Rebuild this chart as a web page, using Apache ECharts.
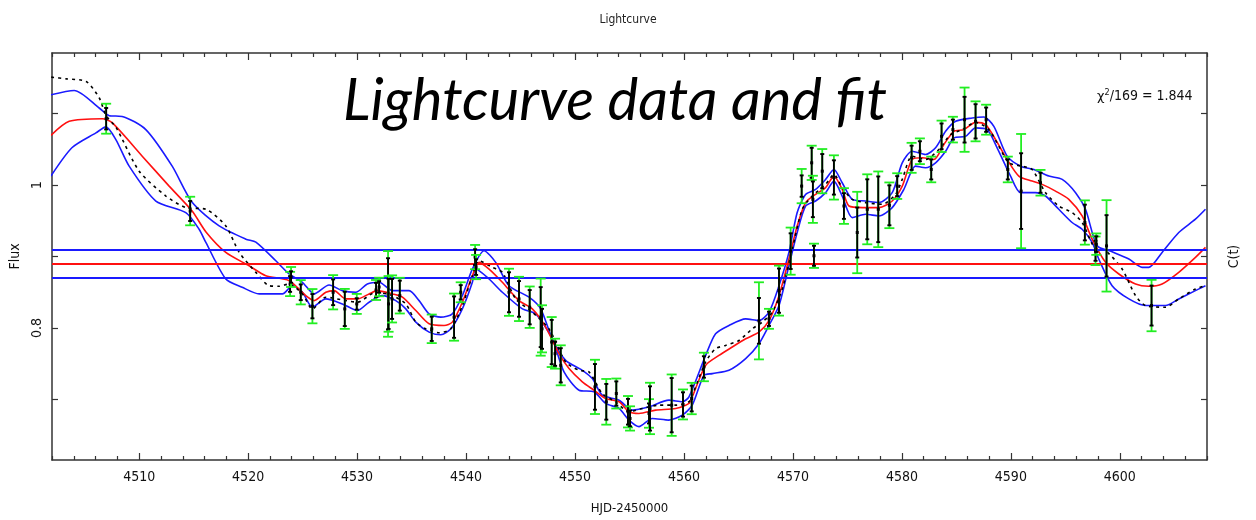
<!DOCTYPE html>
<html><head><meta charset="utf-8">
<script src="https://cdn.jsdelivr.net/npm/echarts@6/dist/echarts.min.js"></script>
<style>html,body{margin:0;padding:0;background:#fff}#c{width:1256px;height:520px}</style>
</head><body><div id="c"></div>
<script>
// ---- data (HJD-2450000, flux) ----
const xMajorTicks = [4510,4520,4530,4540,4550,4560,4570,4580,4590,4600];
const xMinorTicks = [4502,4504,4506,4508,4512,4514,4516,4518,4522,4524,4526,4528,4532,4534,4536,4538,4542,4544,4546,4548,4552,4554,4556,4558,4562,4564,4566,4568,4572,4574,4576,4578,4582,4584,4586,4588,4592,4594,4596,4598,4602,4604,4606,4608];
const yTicks = [0.7,0.8,0.9,1.0,1.1];
const yLabels = [0.8,1.0];
const meanLevel = [0.888];
const bandLevels = [0.905,0.874];
const chiText = '/169 = 1.844';

// observations: [day, flux, error, outer error]
const obs = [
[4506.97,1.093,0.015,0.021],[4514.68,0.9637,0.014,0.020],[4523.85,0.8615,0.011,0.017],[4523.94,0.8713,0.008,0.014],
[4524.83,0.8499,0.011,0.017],[4525.9,0.8304,0.017,0.024],[4527.8,0.8499,0.018,0.024],[4528.87,0.8266,0.024,0.028],
[4529.97,0.8336,0.008,0.014],[4531.74,0.8531,0.010,0.014],[4532.02,0.8573,0.008,0.013],[4532.84,0.8476,0.050,0.060],
[4532.89,0.8336,0.035,0.039],[4533.21,0.8406,0.028,0.033],[4533.92,0.8452,0.021,0.025],[4536.85,0.7987,0.017,0.020],
[4538.9,0.8151,0.029,0.033],[4539.51,0.8499,0.010,0.014],[4540.83,0.8992,0.011,0.017],[4540.92,0.8852,0.011,0.017],
[4543.94,0.8499,0.028,0.033],[4544.86,0.8406,0.025,0.031],[4545.84,0.829,0.024,0.029],[4546.85,0.8151,0.042,0.054],
[4546.97,0.7987,0.028,0.033],[4547.86,0.7802,0.031,0.035],[4548.17,0.7639,0.017,0.021],[4548.69,0.7476,0.024,0.028],
[4551.83,0.7174,0.032,0.038],[4552.87,0.6965,0.025,0.032],[4553.79,0.7081,0.017,0.021],[4554.86,0.6826,0.018,0.022],
[4555.05,0.6732,0.011,0.017],[4556.79,0.6802,0.014,0.020],[4556.88,0.6872,0.031,0.036],[4558.87,0.6918,0.038,0.043],
[4559.91,0.6928,0.017,0.021],[4560.71,0.7011,0.018,0.022],[4561.83,0.7453,0.015,0.020],[4566.88,0.8099,0.032,0.054],
[4567.8,0.8127,0.010,0.014],[4568.72,0.8522,0.031,0.035],[4569.79,0.9075,0.025,0.033],[4570.8,0.9986,0.015,0.024],
[4571.72,1.0312,0.021,0.024],[4571.83,0.9801,0.025,0.033],[4571.93,0.901,0.014,0.017],[4572.69,1.0195,0.024,0.031],
[4573.76,1.0107,0.024,0.031],[4574.68,0.9707,0.018,0.025],[4575.9,0.9336,0.035,0.057],[4576.82,0.9661,0.042,0.049],
[4577.83,0.9661,0.046,0.053],[4578.85,0.9717,0.028,0.032],[4579.57,0.9986,0.014,0.018],[4580.89,1.0382,0.017,0.021],
[4581.65,1.0474,0.014,0.018],[4582.69,1.0219,0.014,0.018],[4583.64,1.0683,0.018,0.022],[4584.68,1.0777,0.014,0.018],
[4585.75,1.0916,0.032,0.045],[4586.76,1.0893,0.024,0.028],[4587.73,1.0916,0.017,0.021],[4589.72,1.0219,0.014,0.018],
[4590.94,0.9916,0.053,0.080],[4592.72,1.0033,0.014,0.018],[4596.79,0.9476,0.025,0.031],[4597.77,0.908,0.014,0.020],
[4597.84,0.9173,0.011,0.015],[4598.78,0.9149,0.043,0.064],[4602.91,0.8313,0.028,0.036]
];

const fitCurve = [[4501.9,1.0697],[4503.58,1.0893],[4506.63,1.093],[4507.52,1.0874],[4510.28,1.0405],[4512.75,0.9986],[4514.86,0.9637],[4516.15,0.934],[4517.95,0.9057],[4520.09,0.887],[4521.62,0.8731],[4523.76,0.8661],[4525.29,0.8452],[4526.06,0.8382],[4527.13,0.8499],[4527.89,0.8522],[4528.96,0.8406],[4530.03,0.8406],[4531.1,0.8476],[4531.86,0.8522],[4533.24,0.8476],[4534.16,0.843],[4535.39,0.8243],[4536.61,0.8057],[4537.98,0.8034],[4538.74,0.8081],[4539.66,0.836],[4540.58,0.8731],[4541.19,0.8918],[4542.11,0.8824],[4543.33,0.8639],[4544.86,0.8382],[4546.08,0.8266],[4547.31,0.8011],[4548.53,0.7639],[4549.45,0.743],[4550.67,0.7244],[4551.74,0.7127],[4552.81,0.7011],[4554.04,0.6965],[4554.95,0.6826],[4555.87,0.6802],[4557.4,0.6848],[4559.24,0.6872],[4560.46,0.6942],[4560.76,0.7035],[4561.99,0.7476],[4563.21,0.7615],[4564.43,0.7732],[4565.66,0.7848],[4566.88,0.7941],[4567.8,0.8103],[4568.72,0.8452],[4569.63,0.8964],[4570.39,0.9428],[4571.16,0.9755],[4572.08,0.987],[4573.0,0.9964],[4573.76,1.0126],[4574.52,0.994],[4575.14,0.9707],[4576.36,0.9685],[4577.89,0.9685],[4579.11,0.9777],[4580.03,0.9986],[4580.94,1.0358],[4581.86,1.0382],[4582.94,1.0358],[4583.85,1.0568],[4584.77,1.0753],[4585.69,1.0777],[4586.76,1.0879],[4587.68,1.0847],[4588.6,1.0637],[4589.66,1.0358],[4590.73,1.0126],[4591.95,1.0056],[4592.87,1.001],[4594.1,0.9916],[4595.32,0.9801],[4596.54,0.9568],[4597.46,0.9243],[4598.69,0.8918],[4599.91,0.8755],[4601.44,0.8615],[4602.66,0.8583],[4603.88,0.8615],[4605.41,0.8778],[4606.94,0.8987],[4607.86,0.9127]];

const upperCurve = [[4501.9,1.1265],[4504.04,1.1325],[4506.33,1.108],[4507.25,1.0972],[4508.44,1.0962],[4510.61,1.0777],[4513.03,1.0265],[4514.86,0.9759],[4517.34,0.9428],[4519.79,0.9243],[4520.71,0.9201],[4522.54,0.894],[4523.76,0.8755],[4524.98,0.8639],[4526.06,0.8476],[4527.43,0.8601],[4528.65,0.8522],[4529.88,0.8499],[4530.94,0.8615],[4532.02,0.8639],[4533.24,0.8522],[4534.77,0.8522],[4535.69,0.8382],[4536.61,0.8197],[4537.68,0.8151],[4538.74,0.8197],[4539.66,0.8452],[4540.58,0.8824],[4541.65,0.908],[4542.72,0.8918],[4543.94,0.8591],[4545.78,0.843],[4546.85,0.8266],[4547.91,0.7848],[4549.14,0.7545],[4550.67,0.7406],[4551.59,0.729],[4552.5,0.7057],[4554.04,0.6988],[4555.26,0.6848],[4556.79,0.6895],[4558.62,0.6988],[4559.84,0.6965],[4560.46,0.7035],[4561.99,0.7615],[4562.9,0.7918],[4564.13,0.8034],[4565.66,0.8127],[4566.88,0.8103],[4567.8,0.822],[4568.72,0.8591],[4569.63,0.9057],[4570.39,0.9615],[4571.16,0.987],[4572.08,0.994],[4573.0,1.008],[4573.76,1.0219],[4574.52,1.0033],[4575.44,0.9801],[4576.67,0.9777],[4577.89,0.9755],[4579.11,0.9894],[4580.03,1.0312],[4580.94,1.0474],[4582.17,1.0428],[4583.09,1.0522],[4584.01,1.0753],[4584.93,1.0893],[4586.45,1.094],[4587.52,1.0954],[4588.44,1.0823],[4589.66,1.0405],[4590.89,1.0265],[4592.11,1.0219],[4593.49,1.0126],[4594.71,1.008],[4595.94,0.9894],[4596.85,0.9661],[4597.92,0.915],[4599.29,0.9066],[4600.83,0.8964],[4602.05,0.8848],[4602.66,0.8848],[4603.88,0.9057],[4605.41,0.9336],[4606.94,0.9522],[4607.86,0.9661]];

const lowerCurve = [[4501.9,1.0126],[4503.85,1.0526],[4506.03,1.0731],[4506.94,1.0815],[4507.86,1.0637],[4509.08,1.0265],[4511.53,0.9777],[4514.28,0.9615],[4515.5,0.9382],[4516.12,0.9197],[4517.95,0.8685],[4519.45,0.8569],[4521.01,0.8476],[4523.15,0.8476],[4524.06,0.8591],[4524.98,0.8499],[4525.9,0.829],[4527.13,0.8406],[4528.65,0.8336],[4530.03,0.8243],[4531.1,0.836],[4532.32,0.8452],[4533.55,0.8382],[4534.47,0.8266],[4535.39,0.8081],[4536.61,0.7941],[4537.68,0.7904],[4538.6,0.7987],[4539.66,0.8266],[4540.58,0.8639],[4540.89,0.8824],[4542.11,0.8685],[4543.33,0.8499],[4545.17,0.8266],[4546.39,0.8197],[4547.91,0.7848],[4548.99,0.7384],[4550.37,0.7127],[4551.74,0.7105],[4552.81,0.6942],[4554.04,0.6872],[4554.95,0.6709],[4555.87,0.6617],[4557.09,0.6732],[4558.62,0.6709],[4559.84,0.6778],[4560.76,0.6918],[4561.83,0.7336],[4562.6,0.736],[4564.13,0.7406],[4565.66,0.7569],[4566.88,0.7778],[4567.8,0.8034],[4568.72,0.8313],[4569.63,0.887],[4570.39,0.9336],[4571.16,0.9707],[4572.08,0.9777],[4573.0,0.9894],[4573.76,1.0056],[4574.52,0.9847],[4575.44,0.9545],[4576.67,0.9591],[4577.89,0.9568],[4579.11,0.9685],[4580.18,0.994],[4581.25,1.0265],[4582.17,1.0243],[4583.09,1.0312],[4584.01,1.0474],[4584.77,1.0661],[4585.84,1.0683],[4586.76,1.0801],[4587.83,1.0777],[4588.74,1.0522],[4589.97,1.0126],[4590.89,0.9894],[4592.27,0.9894],[4593.18,0.9847],[4594.4,0.9661],[4595.62,0.9476],[4596.54,0.9382],[4597.46,0.9197],[4598.07,0.8964],[4599.29,0.8591],[4600.83,0.8406],[4602.36,0.8313],[4604.19,0.8313],[4605.41,0.8406],[4606.94,0.8522],[4607.86,0.8591]];

const dashCurve = [[4501.93,1.1512],[4503.3,1.1488],[4505.14,1.1451],[4506.33,1.1223],[4506.97,1.0972],[4507.89,1.0805],[4510.0,1.0195],[4512.45,0.9847],[4514.28,0.9685],[4516.12,0.9661],[4517.95,0.9428],[4519.17,0.9061],[4520.71,0.8778],[4521.93,0.8591],[4522.84,0.8583],[4523.76,0.8615],[4524.98,0.8476],[4525.9,0.8266],[4527.13,0.843],[4528.96,0.8382],[4530.03,0.836],[4531.72,0.8499],[4533.24,0.8452],[4534.47,0.8336],[4535.39,0.8081],[4536.3,0.7987],[4537.52,0.7932],[4538.6,0.7987],[4539.66,0.8313],[4540.58,0.8731],[4541.19,0.894],[4542.41,0.8848],[4543.33,0.8778],[4544.56,0.8406],[4546.08,0.822],[4547.61,0.7987],[4549.14,0.7523],[4550.37,0.7406],[4551.28,0.7384],[4552.5,0.7081],[4553.73,0.6965],[4554.95,0.6826],[4556.17,0.6872],[4557.71,0.6918],[4559.24,0.6918],[4560.46,0.6965],[4560.76,0.7057],[4561.99,0.7523],[4562.9,0.7709],[4563.82,0.7755],[4565.05,0.7824],[4566.27,0.7987],[4567.18,0.8081],[4568.1,0.822],[4569.02,0.8545],[4569.94,0.9103],[4570.85,0.9661],[4571.77,0.9847],[4573.0,1.001],[4573.76,1.0149],[4574.52,0.9964],[4575.44,0.9801],[4576.67,0.9755],[4578.19,0.9731],[4579.42,0.987],[4580.03,1.008],[4580.94,1.0405],[4582.17,1.0358],[4583.39,1.0498],[4584.47,1.0707],[4585.53,1.0777],[4586.76,1.0879],[4587.98,1.0777],[4588.9,1.0544],[4589.82,1.0312],[4591.04,1.0265],[4591.95,1.0219],[4593.18,0.9894],[4594.4,0.9707],[4595.62,0.9615],[4596.54,0.9476],[4597.77,0.9103],[4598.69,0.908],[4600.21,0.8824],[4601.44,0.8452],[4602.36,0.8313],[4604.19,0.829],[4605.41,0.8406],[4606.94,0.8545],[4607.86,0.8591]];

// ---- chart ----
const X_MIN = 4502, X_MAX = 4608, Y_MIN = 0.615, Y_MAX = 1.185;
const FONT = '"Liberation Sans Narrow","DejaVu Sans Condensed",sans-serif';
const BLUE = '#1a1aff', RED = '#ff1010', GREEN = '#22ee22', AX = '#333';

const chart = echarts.init(document.getElementById('c'), null, {renderer:'canvas'});

function xAx(pos, ticks, len, showLine, label, extra) {
  return Object.assign({
    type:'value', min:X_MIN, max:X_MAX, position:pos, gridIndex:0,
    axisLine:{show:showLine, onZero:false, lineStyle:{color:AX, width:1.5}},
    axisTick:{show:true, inside:true, length:len, customValues:ticks, lineStyle:{color:AX, width:1.2}},
    axisLabel:label ? {show:true, customValues:ticks, margin:10, color:'#111', fontFamily:FONT, fontSize:14,
      formatter:v => String(v)} : {show:false},
    splitLine:{show:false}, minorTick:{show:false}
  }, extra || {});
}
function yAx(pos, label, extra) {
  return Object.assign({
    type:'value', min:Y_MIN, max:Y_MAX, position:pos,
    axisLine:{show:true, onZero:false, lineStyle:{color:AX, width:1.5}},
    axisTick:{show:true, inside:true, length:6, customValues:yTicks, lineStyle:{color:AX, width:1.2}},
    axisLabel:label ? {show:true, customValues:yLabels, rotate:90, margin:8, color:'#111', fontFamily:FONT, fontSize:14,
      formatter:v => (Math.abs(v-1)<1e-9 ? '1' : String(+v.toFixed(2)))} : {show:false},
    splitLine:{show:false}
  }, extra || {});
}

const errSeries = {
  type:'custom', z:5, silent:true,
  data: obs,
  encode:{x:0, y:1},
  renderItem: function(params, api) {
    const x = api.value(0), y = api.value(1), e = api.value(2), eo = api.value(3);
    const c = api.coord([x, y]);
    const t = api.coord([x, y+e])[1], b = api.coord([x, y-e])[1];
    const ot = api.coord([x, y+eo])[1], ob = api.coord([x, y-eo])[1];
    const gs = {stroke:GREEN, lineWidth:1.8}, bs = {stroke:'#000', lineWidth:1.9};
    const gw = 5, bw = 2, cx = c[0];
    return {type:'group', children:[
      {type:'line', shape:{x1:cx, y1:ot, x2:cx, y2:ob}, style:gs},
      {type:'line', shape:{x1:cx-gw, y1:ot, x2:cx+gw, y2:ot}, style:gs},
      {type:'line', shape:{x1:cx-gw, y1:ob, x2:cx+gw, y2:ob}, style:gs},
      {type:'line', shape:{x1:cx, y1:t, x2:cx, y2:b}, style:bs},
      {type:'line', shape:{x1:cx-bw, y1:t, x2:cx+bw, y2:t}, style:bs},
      {type:'line', shape:{x1:cx-bw, y1:b, x2:cx+bw, y2:b}, style:bs},
      {type:'rect', shape:{x:cx-1.5, y:c[1]-1.5, width:3, height:3}, style:{fill:'#000'}}
    ]};
  }
};

function curve(data, color, dashed, z) {
  return {type:'line', data:data, showSymbol:false, symbol:'none', smooth:0.25, z:z, silent:true,
    lineStyle:{color:color, width:1.6, type: dashed ? [3,4] : 'solid'}};
}

const option = {
  animation:false,
  backgroundColor:'#fff',
  title:{text:'Lightcurve', left:'center', top:9, textStyle:{fontFamily:FONT, fontSize:12, fontWeight:'normal', color:'#222'}},
  grid:{left:52, right:49, top:53, bottom:58, containLabel:false},
  xAxis:[
    xAx('bottom', xMajorTicks, 7, true, true, {name:'HJD-2450000', nameLocation:'middle', nameGap:42,
      nameTextStyle:{fontFamily:FONT, fontSize:13, color:'#111'}}),
    xAx('bottom', xMinorTicks, 4, false, false),
    xAx('top', xMajorTicks, 7, true, false),
    xAx('top', xMinorTicks, 4, false, false)
  ],
  yAxis:[
    yAx('left', true, {name:'Flux', nameLocation:'middle', nameRotate:90, nameGap:24,
      nameTextStyle:{fontFamily:FONT, fontSize:14, color:'#111'}}),
    yAx('right', false, {name:'C(t)', nameLocation:'middle', nameRotate:90, nameGap:20,
      nameTextStyle:{fontFamily:FONT, fontSize:14, color:'#111'}})
  ],
  series:[
    {type:'line', data:[], z:1, markLine:{silent:true, symbol:'none', label:{show:false},
      lineStyle:{color:BLUE, width:2, type:'solid'}, data:bandLevels.map(v => ({yAxis:v}))}},
    {type:'line', data:[], z:1, markLine:{silent:true, symbol:'none', label:{show:false},
      lineStyle:{color:RED, width:2, type:'solid'}, data:meanLevel.map(v => ({yAxis:v}))}},
    curve(upperCurve, BLUE, false, 2),
    curve(lowerCurve, BLUE, false, 2),
    curve(fitCurve, RED, false, 3),
    curve(dashCurve, '#000', true, 3),
    errSeries
  ],
  graphic:[
    {type:'text', left:343, top:72, z:10, silent:true, scaleX:1.0,
      style:{text:'Lightcurve data and fit', font:'italic 58px Lato, "Open Sans", sans-serif', fill:'#000'}},
    {type:'text', left:1097, top:88, z:10, silent:true,
      style:{text:'{g|χ}{s|2}{n|' + chiText + '}', rich:{
        g:{fontFamily:'"DejaVu Sans", sans-serif', fontSize:13, fill:'#111', verticalAlign:'bottom'},
        s:{fontFamily:FONT, fontSize:9, fill:'#111', verticalAlign:'top', padding:[0,0,6,0]},
        n:{fontFamily:FONT, fontSize:14, fill:'#111', verticalAlign:'bottom'}}}}
  ]
};
chart.setOption(option);
</script>
</body></html>
